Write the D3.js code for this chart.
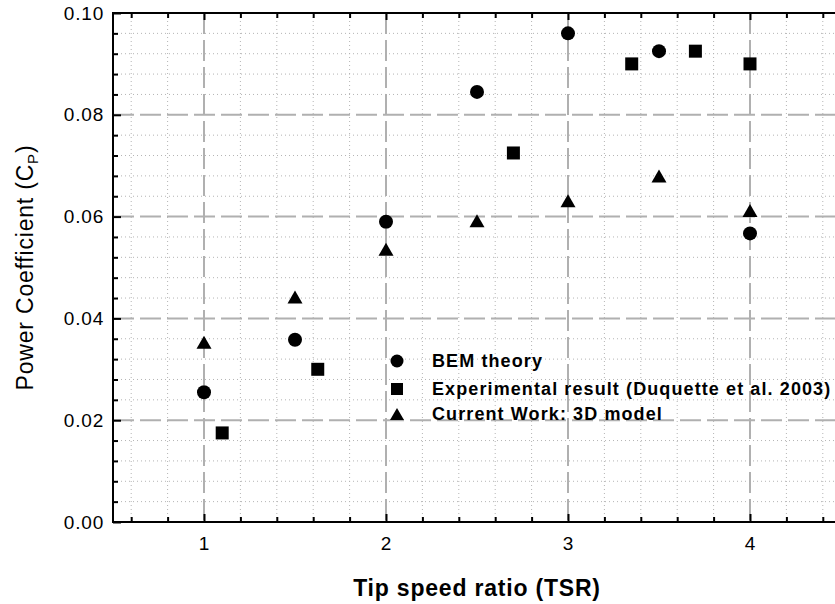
<!DOCTYPE html>
<html>
<head>
<meta charset="utf-8">
<script src="https://cdn.jsdelivr.net/npm/d3@7/dist/d3.min.js"></script>
<style>
  html, body { margin: 0; padding: 0; background: #fff; }
  svg { display: block; font-family: "Liberation Sans", Arial, sans-serif; }
</style>
</head>
<body>
<svg id="chart" width="835" height="604"></svg>
<script>
// Power coefficient vs tip speed ratio
const tsrBEM = [1, 1.5, 2, 2.5, 3, 3.5, 4];
const cpBEM  = [0.0255, 0.0358, 0.059, 0.0845, 0.096, 0.0925, 0.0567];

const tsrExp = [1.1, 1.625, 2.7, 3.35, 3.7, 4.0];
const cpExp  = [0.0175, 0.030, 0.0725, 0.090, 0.0925, 0.090];

const tsr3D = [1, 1.5, 2, 2.5, 3, 3.5, 4];
const cp3D  = [0.0353, 0.0442, 0.0536, 0.0592, 0.0631, 0.068, 0.0612];

const xMajorTicks = [1, 2, 3, 4];
const yMajorTicks = [0.00, 0.02, 0.04, 0.06, 0.08, 0.10];
const legendLabels = ["BEM theory", "Experimental result (Duquette et al. 2003)", "Current Work: 3D model"];

const svg = d3.select("#chart");
const L = 113, R = 841, T = 13, B = 522;
const x = d3.scaleLinear().domain([0.5, 4.5]).range([L, R]);
const y = d3.scaleLinear().domain([0, 0.1]).range([B, T]);

const xMinor = d3.range(6, 45, 2).map(d => d / 10).filter(d => !xMajorTicks.includes(d));
const yMinor = d3.range(1, 25).map(d => d * 0.004).filter(d => Math.abs(d / 0.02 - Math.round(d / 0.02)) > 1e-6);

const grid = svg.append("g");
// minor dotted grid
grid.selectAll(".vmin").data(xMinor).join("line")
  .attr("x1", d => x(d)).attr("x2", d => x(d)).attr("y1", T).attr("y2", B)
  .attr("stroke", "#b4b4b4").attr("stroke-width", 1).attr("stroke-dasharray", "1,3");
grid.selectAll(".hmin").data(yMinor).join("line")
  .attr("x1", L).attr("x2", R).attr("y1", d => y(d)).attr("y2", d => y(d))
  .attr("stroke", "#b4b4b4").attr("stroke-width", 1).attr("stroke-dasharray", "1,3");
// major dashed grid
grid.selectAll(".vmaj").data(xMajorTicks).join("line")
  .attr("x1", d => x(d)).attr("x2", d => x(d)).attr("y1", T).attr("y2", B)
  .attr("stroke", "#b0b0b0").attr("stroke-width", 2).attr("stroke-dasharray", "21,6");
grid.selectAll(".hmaj").data(yMajorTicks.filter(d => d > 0 && d < 0.1)).join("line")
  .attr("x1", L).attr("x2", R).attr("y1", d => y(d)).attr("y2", d => y(d))
  .attr("stroke", "#b0b0b0").attr("stroke-width", 2).attr("stroke-dasharray", "21,6");

// axes with inward ticks
function styleAxis(g) {
  g.select(".domain").remove();
  g.selectAll(".tick line").attr("stroke", "#000").attr("stroke-width", 2);
}
function styleLabels(g) {
  g.selectAll("text").attr("font-size", 19).attr("letter-spacing", 0.8)
    .attr("fill", "#000").attr("font-family", "Liberation Sans, Arial, sans-serif");
}
const axBottomMinor = svg.append("g").attr("transform", `translate(0,${B})`)
  .call(d3.axisBottom(x).tickValues(xMinor).tickSize(-5).tickFormat(""));
styleAxis(axBottomMinor);
const axBottom = svg.append("g").attr("transform", `translate(0,${B})`)
  .call(d3.axisBottom(x).tickValues(xMajorTicks).tickSize(-8).tickPadding(15).tickFormat(d3.format("d")));
styleAxis(axBottom);
styleLabels(axBottom);

const axTopMinor = svg.append("g").attr("transform", `translate(0,${T})`)
  .call(d3.axisTop(x).tickValues(xMinor).tickSize(-5).tickFormat(""));
styleAxis(axTopMinor);
const axTop = svg.append("g").attr("transform", `translate(0,${T})`)
  .call(d3.axisTop(x).tickValues(xMajorTicks).tickSize(-7).tickFormat(""));
styleAxis(axTop);

const axLeftMinor = svg.append("g").attr("transform", `translate(${L},0)`)
  .call(d3.axisLeft(y).tickValues(yMinor).tickSize(-5).tickFormat(""));
styleAxis(axLeftMinor);
const axLeft = svg.append("g").attr("transform", `translate(${L},0)`)
  .call(d3.axisLeft(y).tickValues(yMajorTicks).tickSize(-8).tickPadding(9).tickFormat(d3.format(".2f")));
styleAxis(axLeft);
styleLabels(axLeft);

// frame lines
svg.append("line").attr("x1", L).attr("x2", L).attr("y1", T - 1).attr("y2", B + 1).attr("stroke", "#000").attr("stroke-width", 2);
svg.append("line").attr("x1", L - 1).attr("x2", R).attr("y1", B).attr("y2", B).attr("stroke", "#000").attr("stroke-width", 2);
svg.append("line").attr("x1", L - 1).attr("x2", R).attr("y1", T).attr("y2", T).attr("stroke", "#000").attr("stroke-width", 2);

// axis titles
svg.append("text").attr("x", 477).attr("y", 596).attr("text-anchor", "middle")
  .attr("font-size", 23).attr("letter-spacing", 0.8).attr("font-weight", "bold").text("Tip speed ratio (TSR)");
const yt = svg.append("text").attr("transform", `translate(33,${(T + B) / 2}) rotate(-90)`)
  .attr("text-anchor", "middle").attr("font-size", 23).attr("letter-spacing", 0.8);
yt.append("tspan").text("Power Coefficient (C");
yt.append("tspan").attr("font-size", 15).attr("dy", 5).text("P");
yt.append("tspan").attr("dy", -5).text(")");

// markers
const tri = (w, h) => `M0,${-h / 2}L${w / 2},${h / 2}L${-w / 2},${h / 2}Z`;
const pts = svg.append("g");
pts.selectAll(".bem").data(d3.zip(tsrBEM, cpBEM)).join("path")
  .attr("transform", d => `translate(${x(d[0])},${y(d[1])})`)
  .attr("d", d3.symbol(d3.symbolCircle, Math.PI * 7 * 7)).attr("fill", "#000");
pts.selectAll(".exp").data(d3.zip(tsrExp, cpExp)).join("path")
  .attr("transform", d => `translate(${x(d[0])},${y(d[1])})`)
  .attr("d", d3.symbol(d3.symbolSquare, 13 * 13)).attr("fill", "#000");
pts.selectAll(".cw").data(d3.zip(tsr3D, cp3D)).join("path")
  .attr("transform", d => `translate(${x(d[0])},${y(d[1])})`)
  .attr("d", tri(15, 13)).attr("fill", "#000");

// legend
const lg = svg.append("g").attr("transform", "translate(397,361)");
const legendShapes = [
  d3.symbol(d3.symbolCircle, Math.PI * 6.5 * 6.5)(),
  d3.symbol(d3.symbolSquare, 12 * 12)(),
  tri(14, 12)
];
const rowY = [0, 28, 53];
legendLabels.forEach((t, i) => {
  lg.append("path").attr("transform", `translate(0,${rowY[i]})`).attr("d", legendShapes[i]).attr("fill", "#000");
  lg.append("text").attr("x", 35).attr("y", rowY[i] + 6).attr("font-size", 18).attr("letter-spacing", 1.1)
    .attr("font-weight", "bold").text(t);
});
</script>
</body>
</html>
